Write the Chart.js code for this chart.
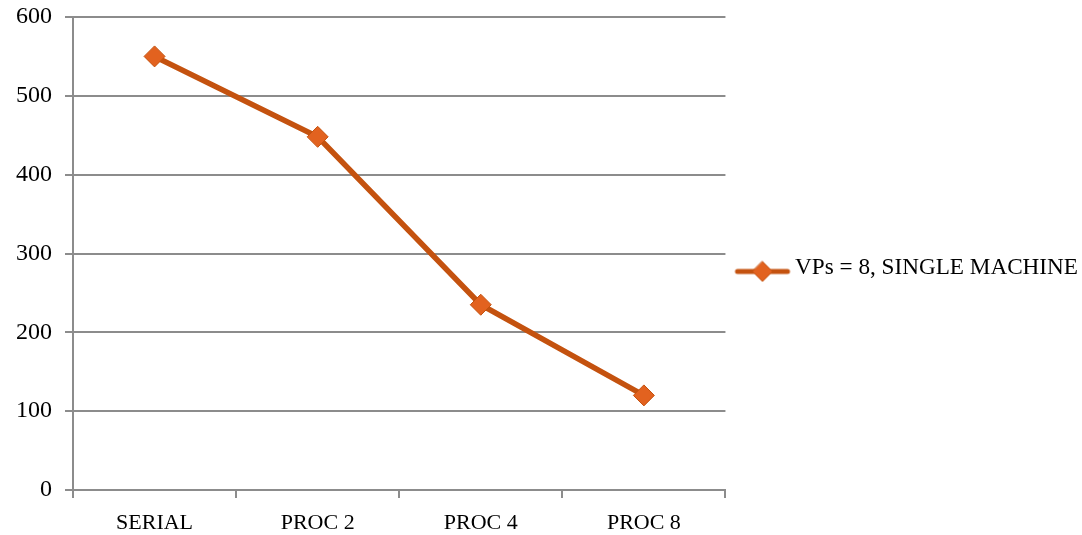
<!DOCTYPE html>
<html>
<head>
<meta charset="utf-8">
<script src="https://cdn.jsdelivr.net/npm/chart.js@4/dist/chart.umd.min.js"></script>
<style>
  html, body { margin: 0; padding: 0; background: #fff; }
  #wrap { width: 1082px; height: 535px; }
</style>
</head>
<body>
<div id="wrap"><canvas id="chart" width="1082" height="535"></canvas></div>
<script>
// donnees du graphique
var categories = ['SERIAL', 'PROC 2', 'PROC 4', 'PROC 8'];
var seriesLabel = 'VPs = 8, SINGLE MACHINE';
var seriesValues = [550, 448, 235, 120];
var yTicks = [0, 100, 200, 300, 400, 500, 600];

var lineColor = '#c4520f';
var markerFill = '#e2621f';

// petite image pour la legende : trait + losange (decalee a droite dans le canvas)
function legendIcon() {
  var c = document.createElement('canvas');
  c.width = 74; c.height = 32;
  var ctx = c.getContext('2d');
  ctx.strokeStyle = lineColor;
  ctx.lineWidth = 5;
  ctx.lineCap = 'round';
  ctx.beginPath();
  ctx.moveTo(19, 20); ctx.lineTo(69, 20);
  ctx.stroke();
  ctx.fillStyle = markerFill;
  ctx.strokeStyle = lineColor;
  ctx.lineWidth = 1;
  ctx.beginPath();
  ctx.moveTo(44, 10); ctx.lineTo(54, 20); ctx.lineTo(44, 30); ctx.lineTo(34, 20);
  ctx.closePath();
  ctx.fill(); ctx.stroke();
  return c;
}

var serif = '"Liberation Serif", "Times New Roman", serif';

new Chart(document.getElementById('chart'), {
  type: 'line',
  data: {
    labels: categories,
    datasets: [{
      label: seriesLabel,
      data: seriesValues,
      borderColor: lineColor,
      backgroundColor: markerFill,
      borderWidth: 5.5,
      tension: 0,
      fill: false,
      pointStyle: 'rectRot',
      pointRadius: 10.5,
      pointHoverRadius: 10.5,
      pointBorderWidth: 1,
      pointBorderColor: lineColor,
      pointBackgroundColor: markerFill
    }]
  },
  options: {
    responsive: false,
    animation: false,
    layout: { padding: { left: 3, top: 0, right: -6, bottom: 0 } },
    plugins: {
      tooltip: { enabled: false },
      legend: {
        position: 'right',
        maxWidth: 420,
        labels: {
          font: { family: serif, size: 23.2 },
          color: '#000',
          usePointStyle: true,
          pointStyleWidth: 56,
          padding: 2,
          generateLabels: function(chart) {
            var items = Chart.defaults.plugins.legend.labels.generateLabels(chart);
            items.forEach(function(it) { it.pointStyle = legendIcon(); });
            return items;
          }
        }
      }
    },
    scales: {
      x: {
        offset: true,
        afterFit: function(scale) { scale.height = 45; },
        grid: {
          display: true,
          offset: true,
          drawOnChartArea: false,
          drawTicks: true,
          tickLength: 8,
          color: '#8c8c8c',
          lineWidth: 2
        },
        border: { display: true, color: '#8c8c8c', width: 2 },
        ticks: { font: { family: serif, size: 22 }, color: '#000', padding: 12, maxRotation: 0 }
      },
      y: {
        min: 0,
        max: 600,
        afterBuildTicks: function(axis) {
          axis.ticks = yTicks.map(function(v) { return { value: v }; });
        },
        afterFit: function(scale) { scale.paddingTop = 17; },
        grid: {
          color: '#8c8c8c',
          lineWidth: 2,
          tickLength: 8
        },
        border: { display: true, color: '#8c8c8c', width: 2 },
        ticks: { font: { family: serif, size: 24 }, color: '#000', padding: 13 }
      }
    }
  }
});
</script>
</body>
</html>
